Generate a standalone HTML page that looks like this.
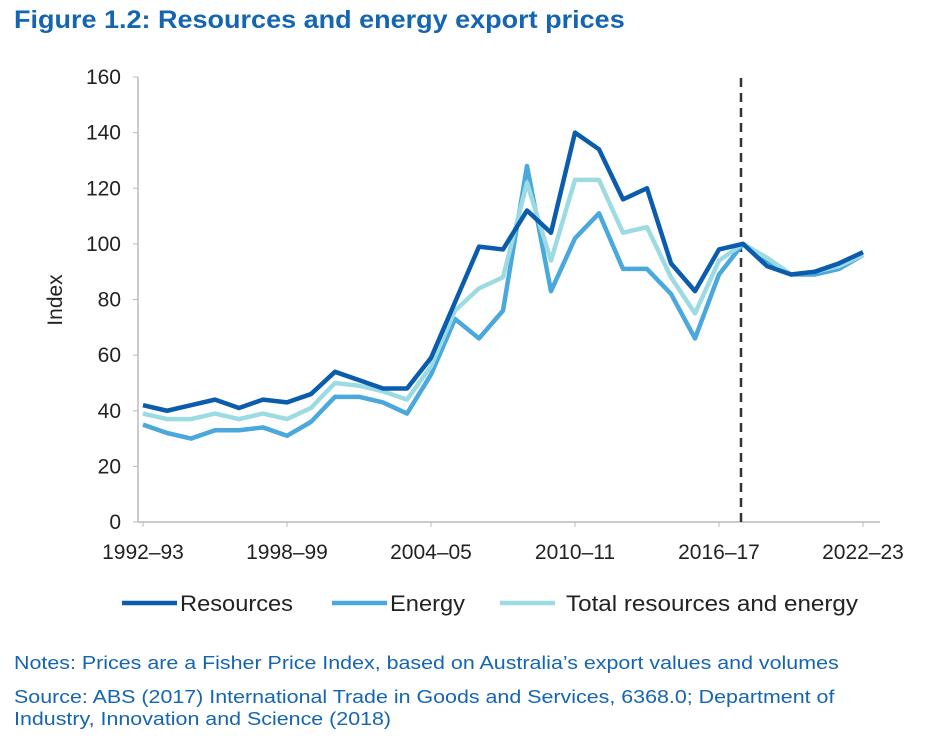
<!DOCTYPE html>
<html><head><meta charset="utf-8"><style>
body{margin:0;background:#fff;font-family:"Liberation Sans",Arial,sans-serif;}
.t{position:absolute;left:14px;top:6px;font-size:25px;font-weight:bold;color:#1465b2;transform-origin:0 0;transform:scaleX(1.08);white-space:nowrap;}
.n{position:absolute;left:14px;font-size:18px;color:#1465b2;transform-origin:0 0;white-space:nowrap;}
</style></head><body>
<div class="t">Figure 1.2: Resources and energy export prices</div>
<svg id="c" width="934" height="750" style="position:absolute;left:0;top:0"></svg>
<div class="n" style="top:653px;transform:scaleX(1.19)">Notes: Prices are a Fisher Price Index, based on Australia’s export values and volumes</div>
<div class="n" style="top:686px;line-height:22px;transform:scaleX(1.19)">Source: ABS (2017) International Trade in Goods and Services, 6368.0; Department of<br>Industry, Innovation and Science (2018)</div>
<script>
const xLabels=["1992–93","1998–99","2004–05","2010–11","2016–17","2022–23"];
const yTicks=[0,20,40,60,80,100,120,140,160];
const resources=[42,40,42,44,41,44,43,46,54,51,48,48,59,79,99,98,112,104,140,134,116,120,93,83,98,100,92,89,90,93,97];
const energy=[35,32,30,33,33,34,31,36,45,45,43,39,53,73,66,76,128,83,102,111,91,91,82,66,89,100,94,89,89,91,96];
const total=[39,37,37,39,37,39,37,41,50,49,47,44,56,76,84,88,122,94,123,123,104,106,88,75,94,100,95,89,90,92,96];
const forecastIndex=25;
const svg=document.getElementById('c');const NS='http://www.w3.org/2000/svg';
const X=i=>143+24*i, Y=v=>522-v*(445/160);
function mk(t,a,txt){const e=document.createElementNS(NS,t);for(const k in a)e.setAttribute(k,a[k]);if(txt!=null)e.textContent=txt;svg.appendChild(e);return e;}
let e=mk('line',{x1:138,y1:77,x2:138,y2:522,stroke:'#bbb','stroke-width':1.5});

e=mk('line',{x1:138,y1:522,x2:880,y2:522,stroke:'#bbb','stroke-width':1.5});

yTicks.forEach(v=>{mk('line',{x1:133,y1:Y(v),x2:138,y2:Y(v),stroke:'#bbb'});
e=mk('text',{x:121,y:Y(v)+7,'text-anchor':'end','font-size':21,fill:'#222'},v);
});
xLabels.forEach((l,k)=>{mk('line',{x1:X(k*6),y1:522,x2:X(k*6),y2:527,stroke:'#bbb'});
e=mk('text',{x:X(k*6),y:559,'text-anchor':'middle','font-size':21,fill:'#222'},l);
});
e=mk('text',{x:62,y:300,'text-anchor':'middle','font-size':21,fill:'#222',transform:'rotate(-90 62 300)'},'Index');

e=mk('line',{x1:X(forecastIndex)-2,y1:78,x2:X(forecastIndex)-2,y2:522,stroke:'#333','stroke-width':2.5,'stroke-dasharray':'9,6'});

const series=[[resources,'#0b5cad','resources-line'],[energy,'#4aa8dd','energy-line'],[total,'#9ddbe3','total-line']];
[series[1],series[2],series[0]].forEach(s=>{e=mk('polyline',{points:s[0].map((v,i)=>X(i)+','+Y(v)).join(' '),fill:'none',stroke:s[1],'stroke-width':4.5,'stroke-linejoin':'round'});
});
const leg=[['Resources','#0b5cad',122,113],['Energy','#4aa8dd',332,75],['Total resources and energy','#9ddbe3',500,292]];
leg.forEach(l=>{const g=mk('g',{});
const a=document.createElementNS(NS,'line');a.setAttribute('x1',l[2]);a.setAttribute('x2',l[2]+55);a.setAttribute('y1',603);a.setAttribute('y2',603);a.setAttribute('stroke',l[1]);a.setAttribute('stroke-width',4.5);g.appendChild(a);
const t=document.createElementNS(NS,'text');t.setAttribute('x',l[2]+(l[2]>400?66:58));t.setAttribute('y',611);t.setAttribute('font-size',22);t.setAttribute('fill','#222');t.setAttribute('textLength',l[3]);t.setAttribute('lengthAdjust','spacingAndGlyphs');t.textContent=l[0];g.appendChild(t);});
</script>
</body></html>
